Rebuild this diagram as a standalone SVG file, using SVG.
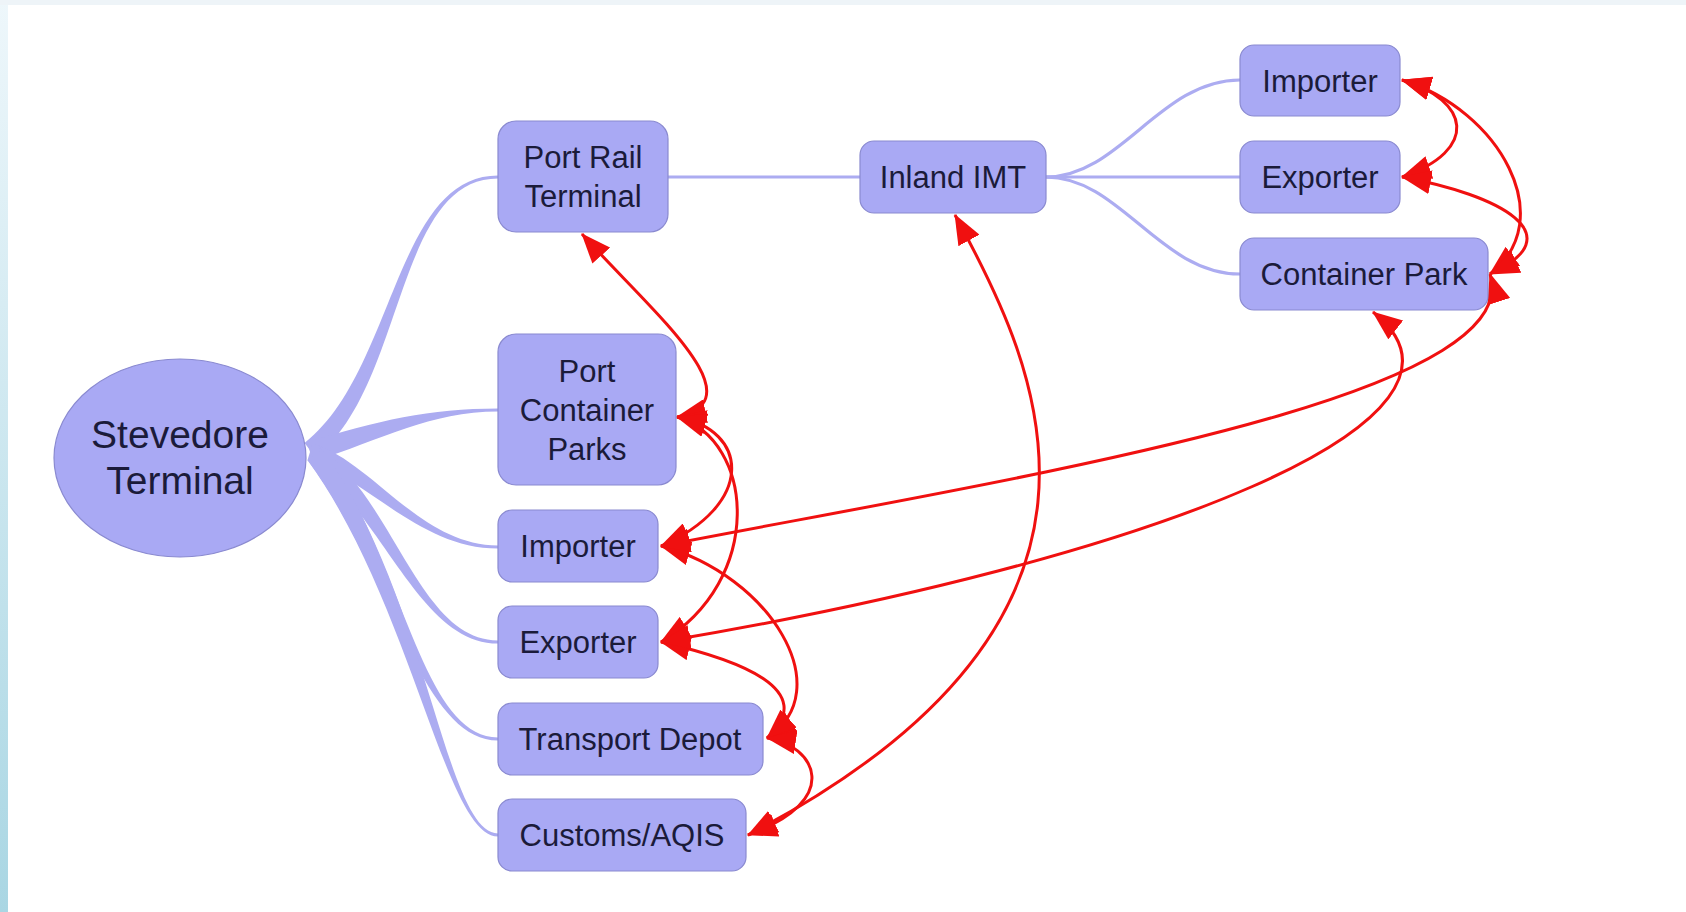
<svg xmlns="http://www.w3.org/2000/svg" width="1686" height="912" viewBox="0 0 1686 912">
<defs>
<linearGradient id="edge" x1="0" y1="0" x2="0" y2="1">
<stop offset="0" stop-color="#eef7fb"/>
<stop offset="1" stop-color="#a9d6e3"/>
</linearGradient>
<marker id="ah" viewBox="0 0 30 24" refX="29" refY="12" markerWidth="30" markerHeight="24" markerUnits="userSpaceOnUse" orient="auto-start-reverse">
<path d="M0,0 L30,12 L0,24 Z" fill="#f01010"/>
</marker>
<style>
.nd{fill:#a9a9f4;stroke:#8a8ad0;stroke-width:1.2}
.lbl{font-family:"Liberation Sans",Arial,sans-serif;font-size:31px;fill:#1b1b3a;text-anchor:middle}
.big{font-size:39px}
.br{fill:#acacf1}
.ln{fill:none;stroke:#acacf1;stroke-width:3.2}
.rel{fill:none;stroke:#f01010;stroke-width:3;marker-start:url(#ah);marker-end:url(#ah)}
</style>
</defs>
<rect width="1686" height="912" fill="#ffffff"/>
<rect x="0" y="0" width="8" height="912" fill="url(#edge)"/>
<rect x="0" y="0" width="1686" height="5" fill="#eef4f8"/>

<g id="connectors">
<g id="branches">
<path class="br" d="M304.5,442.9 C394.5,372.9 395,175.4 498,175.4 L498,178.6 C395,178.6 405.5,387.1 315.5,457.1 Z"/>
<path class="br" d="M307,442.5 C377,420.5 430,408.4 498,408.4 L498,411.6 C430,411.6 383,439.5 313,461.5 Z"/>
<path class="br" d="M312.6,443.4 C372.6,461.4 420,545.4 498,545.4 L498,548.6 C420,548.6 367.4,478.6 307.4,460.6 Z"/>
<path class="br" d="M320.3,447.7 C395.3,502.7 420,640.4 498,640.4 L498,643.6 C420,643.6 384.7,517.3 309.7,462.3 Z"/>
<path class="br" d="M322.2,449.5 C402.2,554.5 420,737.4 498,737.4 L498,740.6 C420,740.6 387.8,565.5 307.8,460.5 Z"/>
<path class="br" d="M322.3,449.7 C427.3,594.7 445,833.4 498,833.4 L498,836.6 C445,836.6 412.7,605.3 307.7,460.3 Z"/>
<path class="ln" d="M668,177 L860,177"/>
<path class="ln" d="M1046,177 C1120,177 1160,80 1240,80"/>
<path class="ln" d="M1046,177 L1240,177"/>
<path class="ln" d="M1046,177 C1120,177 1160,274 1240,274"/>
</g>
<g id="relations">
<path class="rel" d="M582,234 C650,310 760,400 677,417"/>
<path class="rel" d="M677,417 C750,430 755,505 661,546"/>
<path class="rel" d="M677,417 C755,440 765,580 661,642"/>
<path class="rel" d="M661,546 C770,575 840,690 767,738"/>
<path class="rel" d="M661,642 C740,660 820,690 767,738"/>
<path class="rel" d="M767,738 C815,745 845,800 748,835"/>
<path class="rel" d="M955,215 C1040,370 1160,620 748,835"/>
<path class="rel" d="M661,546 C1000,480 1530,400 1490,274"/>
<path class="rel" d="M661,642 C1150,560 1510,420 1373,312"/>
<path class="rel" d="M1402,80 C1470,100 1480,150 1402,177"/>
<path class="rel" d="M1402,80 C1500,110 1560,220 1490,274"/>
<path class="rel" d="M1402,177 C1500,195 1575,235 1490,274"/>
</g>
</g>

<g id="stevedore">
<ellipse class="nd" cx="180" cy="458" rx="126" ry="99"/>
<text class="lbl big" x="180" y="448">Stevedore</text>
<text class="lbl big" x="180" y="494">Terminal</text>
</g>
<g id="port-rail">
<rect class="nd" x="498" y="121" width="170" height="111" rx="18"/>
<text class="lbl" x="583" y="168">Port Rail</text>
<text class="lbl" x="583" y="207">Terminal</text>
</g>
<g id="port-container-parks">
<rect class="nd" x="498" y="334" width="178" height="151" rx="18"/>
<text class="lbl" x="587" y="382">Port</text>
<text class="lbl" x="587" y="421">Container</text>
<text class="lbl" x="587" y="460">Parks</text>
</g>
<g id="importer-left">
<rect class="nd" x="498" y="510" width="160" height="72" rx="14"/>
<text class="lbl" x="578" y="557">Importer</text>
</g>
<g id="exporter-left">
<rect class="nd" x="498" y="606" width="160" height="72" rx="14"/>
<text class="lbl" x="578" y="653">Exporter</text>
</g>
<g id="transport-depot">
<rect class="nd" x="498" y="703" width="265" height="72" rx="14"/>
<text class="lbl" x="630" y="750">Transport Depot</text>
</g>
<g id="customs">
<rect class="nd" x="498" y="799" width="248" height="72" rx="14"/>
<text class="lbl" x="622" y="846">Customs/AQIS</text>
</g>
<g id="inland-imt">
<rect class="nd" x="860" y="141" width="186" height="72" rx="14"/>
<text class="lbl" x="953" y="188">Inland IMT</text>
</g>
<g id="importer-right">
<rect class="nd" x="1240" y="45" width="160" height="71" rx="14"/>
<text class="lbl" x="1320" y="92">Importer</text>
</g>
<g id="exporter-right">
<rect class="nd" x="1240" y="141" width="160" height="72" rx="14"/>
<text class="lbl" x="1320" y="188">Exporter</text>
</g>
<g id="container-park">
<rect class="nd" x="1240" y="238" width="248" height="72" rx="14"/>
<text class="lbl" x="1364" y="285">Container Park</text>
</g>
</svg>
